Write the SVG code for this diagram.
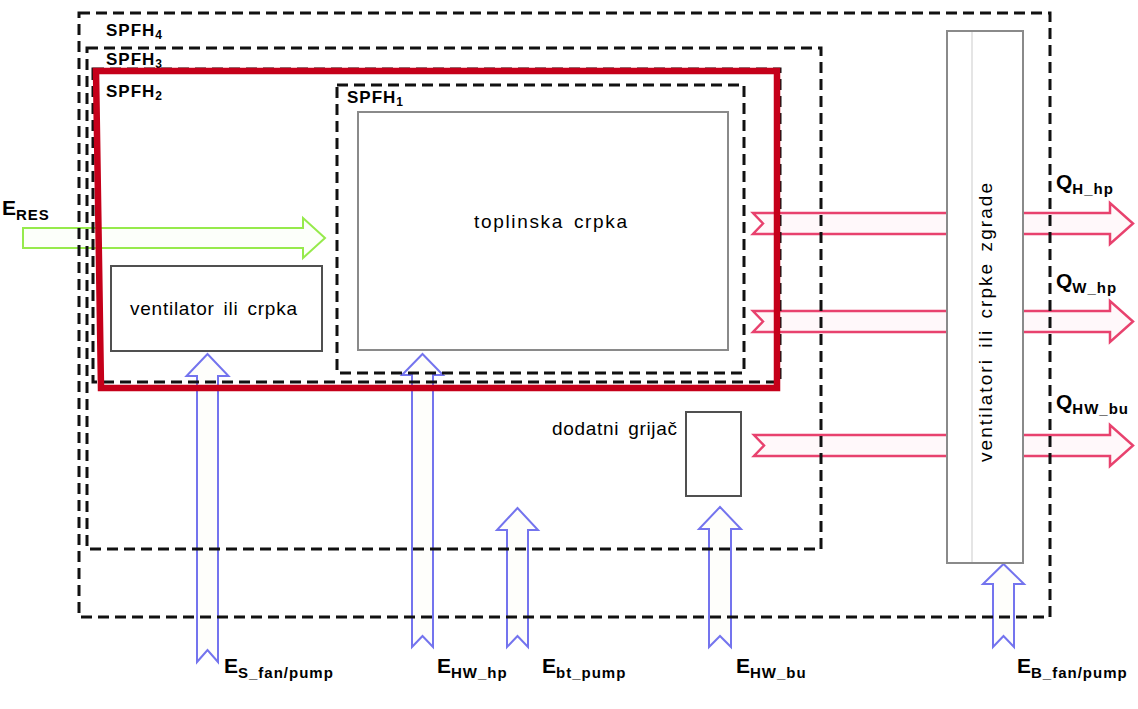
<svg xmlns="http://www.w3.org/2000/svg" width="1138" height="709" viewBox="0 0 1138 709">
<style>
.frame{fill:none;stroke:#111;stroke-width:3;stroke-dasharray:11 6}
.red{fill:none;stroke:#c5001a;stroke-width:6.5;stroke-linejoin:miter}
.box{fill:#fff;stroke:#8a8a8a;stroke-width:2}
.boxd{fill:#fff;stroke:#505050;stroke-width:2}
.ag{fill:#fcfffa;stroke:#96ea4c;stroke-width:2}
.ap{fill:#fff8fa;stroke:#e8426e;stroke-width:2.5}
.ab{fill:#fefefb;stroke:#7474ee;stroke-width:2}
.lbl{font-family:"Liberation Sans",Arial,sans-serif;font-weight:bold;font-size:17px;fill:#000}
.sub{font-size:12px}
.big{font-family:"Liberation Sans",Arial,sans-serif;font-weight:bold;font-size:21px;fill:#000}
.bs{font-size:15px;letter-spacing:1px}
.txt{font-family:"Liberation Sans",Arial,sans-serif;font-size:19px;fill:#000;word-spacing:3px}
</style>

<g id="connectors">
  <polygon id="e-res" class="ag" points="23,228 303,228 303,218 325,238 303,258 303,248 23,248"/>
  <polygon id="q-h-hp" class="ap" points="753,213 1110,213 1110,203 1133,223.5 1110,244 1110,234 753,234 763,223.5"/>
  <polygon id="q-w-hp" class="ap" points="753,311 1110,311 1110,301 1133,321.5 1110,342 1110,332 753,332 763,321.5"/>
  <polygon id="q-hw-bu" class="ap" points="754,435 1110,435 1110,425 1133,445.5 1110,466 1110,456 754,456 764,445.5"/>
  <polygon id="e-s" class="ab" points="197,662 197,376 186.5,376 207.5,354 228.5,376 218,376 218,662 207.5,650"/>
  <polygon id="e-hw-hp" class="ab" points="412,647 412,375 402,375 422.5,354 443,375 433,375 433,647 422.5,636"/>
  <polygon id="e-bt" class="ab" points="507,647 507,530 497,530 517.5,508 538,530 528,530 528,647 517.5,636"/>
  <polygon id="e-hw-bu" class="ab" points="709,647 709,529 699,529 720,507 741,529 731,529 731,647 720,636"/>
  <polygon id="e-b" class="ab" points="993,647 993,584 983,584 1003.5,564 1024,584 1014,584 1014,647 1003.5,636"/>
</g>

<g id="spfh4">
  <rect class="frame" x="79" y="13" width="971" height="604"/>
  <text class="lbl" x="106" y="36" letter-spacing="1">SPFH<tspan class="sub" dy="3">4</tspan></text>
</g>
<g id="spfh3">
  <rect class="frame" x="87" y="48" width="734" height="501"/>
  <text class="lbl" x="106" y="65" letter-spacing="1">SPFH<tspan class="sub" dy="3">3</tspan></text>
</g>
<g id="spfh2">
  <rect class="frame" x="93" y="69" width="687" height="313"/>
  <path class="red" d="M96,71 H777 V388 H101 Z"/>
  <text class="lbl" x="106" y="97" letter-spacing="1">SPFH<tspan class="sub" dy="3">2</tspan></text>
</g>
<g id="spfh1">
  <rect class="frame" x="337" y="85" width="407" height="288"/>
  <text class="lbl" x="347" y="103" letter-spacing="1">SPFH<tspan class="sub" dy="3">1</tspan></text>
</g>

<g id="node-toplinska-crpka">
  <rect class="box" x="358" y="112" width="370" height="238"/>
  <text class="txt" x="474" y="228" textLength="153" lengthAdjust="spacing">toplinska crpka</text>
</g>
<g id="node-ventilator">
  <rect class="boxd" x="111" y="266" width="211" height="85"/>
  <text class="txt" x="130" y="315" textLength="167" lengthAdjust="spacing">ventilator ili crpka</text>
</g>
<g id="node-dodatni">
  <rect class="boxd" x="686" y="412" width="55" height="84"/>
  <text class="txt" x="552" y="435" textLength="125" lengthAdjust="spacing">dodatni grijač</text>
</g>
<g id="node-ventilatori">
  <rect class="box" x="947" y="31" width="76" height="532"/>
  <line x1="972" y1="32" x2="972" y2="562" stroke="#dcdcdc" stroke-width="1.5"/>
  <text class="txt" transform="translate(992,462) rotate(-90)" x="0" y="0" font-size="20" textLength="279" lengthAdjust="spacing">ventilatori ili crpke zgrade</text>
</g>

<g id="labels">
  <text class="big" x="2" y="215">E<tspan class="bs" dy="5">RES</tspan></text>
  <text class="big" x="1056" y="189">Q<tspan class="bs" dy="5">H_hp</tspan></text>
  <text class="big" x="1056" y="288">Q<tspan class="bs" dy="5">W_hp</tspan></text>
  <text class="big" x="1056" y="409">Q<tspan class="bs" dy="5">HW_bu</tspan></text>
  <text class="big" x="224" y="673">E<tspan class="bs" dy="5">S_fan/pump</tspan></text>
  <text class="big" x="437" y="673">E<tspan class="bs" dy="5">HW_hp</tspan></text>
  <text class="big" x="542" y="673">E<tspan class="bs" dy="5">bt_pump</tspan></text>
  <text class="big" x="736" y="673">E<tspan class="bs" dy="5">HW_bu</tspan></text>
  <text class="big" x="1017" y="673">E<tspan class="bs" dy="5">B_fan/pump</tspan></text>
</g>
</svg>
